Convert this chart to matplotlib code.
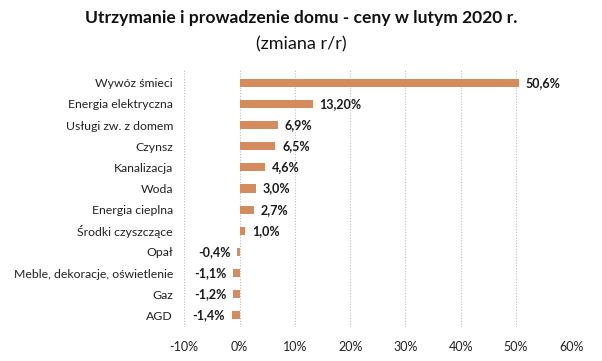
import matplotlib.pyplot as plt
from matplotlib.ticker import FuncFormatter

categories = ['Wywóz śmieci', 'Energia elektryczna', 'Usługi zw. z domem', 'Czynsz',
              'Kanalizacja', 'Woda', 'Energia cieplna', 'Środki czyszczące',
              'Opał', 'Meble, dekoracje, oświetlenie', 'Gaz', 'AGD']
values = [50.6, 13.2, 6.9, 6.5, 4.6, 3.0, 2.7, 1.0, -0.4, -1.1, -1.2, -1.4]
labels = ['50,6%', '13,20%', '6,9%', '6,5%', '4,6%', '3,0%', '2,7%', '1,0%',
          '-0,4%', '-1,1%', '-1,2%', '-1,4%']
xticks = [-10, 0, 10, 20, 30, 40, 50, 60]

plt.rcParams['font.family'] = ['Lato', 'DejaVu Sans']

fig = plt.figure(figsize=(6.02, 3.61), dpi=100)
ax = fig.add_axes([0.306, 0.094, 0.643, 0.712])

ypos = list(range(len(categories)))
ax.barh(ypos, values, height=0.38, color='#D48C5E', zorder=3)

for y, v, lab in zip(ypos, values, labels):
    if v >= 0:
        ax.text(v + 1.2, y, lab, va='center', ha='left', fontsize=9, fontweight='bold', color='#1a1a1a')
    else:
        ax.text(v - 1.2, y, lab, va='center', ha='right', fontsize=9, fontweight='bold', color='#1a1a1a')

ax.set_yticks(ypos)
ax.set_yticklabels(categories, fontsize=8.8, color='#222222')
ax.set_ylim(len(categories) - 0.45, -0.6)
ax.set_xlim(-10, 60)
ax.set_xticks(xticks)
ax.xaxis.set_major_formatter(FuncFormatter(lambda x, p: f'{int(x)}%'))
ax.tick_params(axis='x', labelsize=9, colors='#222222', length=0, pad=10)
ax.tick_params(axis='y', length=0, pad=8)

ax.grid(axis='x', linestyle=(0, (1, 1.5)), color='#BFBFBF', linewidth=0.8, zorder=0)
for s in ax.spines.values():
    s.set_visible(False)

fig.text(0.5, 0.935, 'Utrzymanie i prowadzenie domu - ceny w lutym 2020 r.',
         ha='center', fontsize=12.6, fontweight='bold', color='#111111')
fig.text(0.5, 0.862, '(zmiana r/r)', ha='center', fontsize=13, color='#111111')

fig.savefig('out.png', dpi=100)
